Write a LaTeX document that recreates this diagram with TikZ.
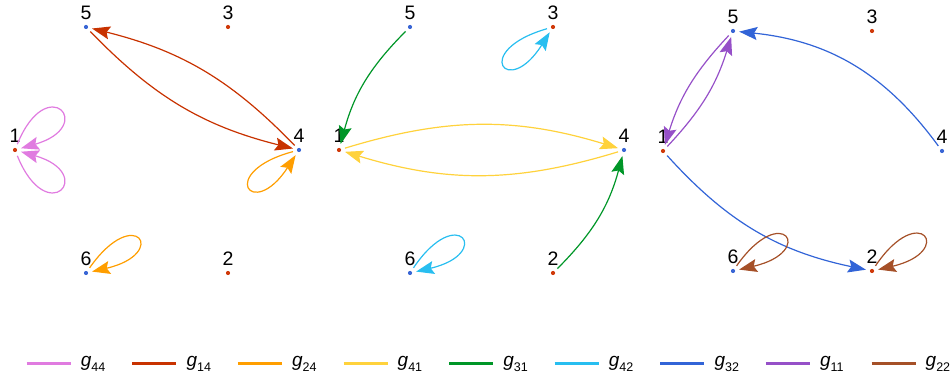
\documentclass[tikz,border=0pt]{standalone}
\usepackage{fontspec}
\setmainfont{Liberation Sans}
\usetikzlibrary{arrows.meta}
\definecolor{vblue}{HTML}{3A66D5}
\definecolor{vred}{HTML}{D03A0A}
\definecolor{cpink}{HTML}{E07BE0}
\definecolor{cred}{HTML}{C83200}
\definecolor{corange}{HTML}{FF9E00}
\definecolor{cyellow}{HTML}{FFD23C}
\definecolor{cgreen}{HTML}{009628}
\definecolor{ccyan}{HTML}{28BEF0}
\definecolor{cblue}{HTML}{3264D7}
\definecolor{cpurple}{HTML}{9650C8}
\definecolor{cbrown}{HTML}{A55028}
\tikzset{
  vtx/.style={circle, minimum size=12pt, inner sep=0pt},
  lbl/.style={anchor=base, inner sep=0pt, font=\fontsize{19.5}{19.5}\selectfont},
  edge/.style={line width=1.2pt, -{Stealth[length=18pt,width=13pt,inset=3pt]}},
  leg/.style={line width=2.4pt},
  legtxt/.style={anchor=base west, inner sep=0pt, font=\fontsize{19}{19}\selectfont},
}
\newcommand\myvertex[4]{%
  \node[vtx] (#1) at (#2) {};
  \fill[#3] (#1.center) circle (2.1);
  \node[lbl] (l#1) at ([yshift=7pt]#1.center) {#4};}
\newcommand\mysub[1]{\raisebox{-4.5pt}{\fontsize{12.5}{12.5}\selectfont #1}}
\newcommand\mylegend[4]{%
  \coordinate (ls#1) at (#2,16.3);
  \coordinate (le#1) at (#2+44,16.3);
  \draw[leg,#3] (ls#1) -- (le#1);
  \node[legtxt] (lt#1) at (#2+54,13) {{\itshape g}\mysub{#4}};}
\begin{document}
\begin{tikzpicture}[x=1pt,y=1pt]
\useasboundingbox (0,0) rectangle (951,380);
% panel 1
\myvertex{a5}{86,353}{vblue}{5}
\myvertex{a3}{228,353}{vred}{3}
\myvertex{a1}{15,230}{vred}{1}
\myvertex{a4}{299,230}{vblue}{4}
\myvertex{a6}{86,107}{vblue}{6}
\myvertex{a2}{228,107}{vred}{2}
% panel 2
\myvertex{b5}{410,353}{vblue}{5}
\myvertex{b3}{553,353}{vred}{3}
\myvertex{b1}{339,230}{vred}{1}
\myvertex{b4}{624,230}{vblue}{4}
\myvertex{b6}{410,107}{vblue}{6}
\myvertex{b2}{553,107}{vred}{2}
% panel 3
\myvertex{c5}{733,349}{vblue}{5}
\myvertex{c3}{872,349}{vred}{3}
\myvertex{c1}{663,229}{vred}{1}
\myvertex{c4}{942,229}{vblue}{4}
\myvertex{c6}{733,109}{vblue}{6}
\myvertex{c2}{872,109}{vred}{2}
% panel 1 edges
\draw[edge,cred] (a4) to[bend right=16] (a5);
\draw[edge,cred] (a5) to[bend right=16] (a4);
\draw[edge,cpink] (a1) .. controls +(68:86) and +(16:86) .. (a1);
\draw[edge,cpink] (a1) .. controls +(-68:86) and +(-16:86) .. (a1);
\draw[edge,corange] (a4) .. controls +(195:86) and +(237:86) .. (a4);
\draw[edge,corange] (a6) .. controls +(55:86) and +(13:86) .. (a6);
% panel 2 edges
\draw[edge,cgreen] (b5) to[bend right=15] (b1);
\draw[edge,cgreen] (b2) to[bend right=15] (b4);
\draw[edge,cyellow] (b1) to[bend left=17] (b4);
\draw[edge,cyellow] (b4) to[bend left=17] (b1);
\draw[edge,ccyan] (b3) .. controls +(196:86) and +(238:86) .. (b3);
\draw[edge,ccyan] (b6) .. controls +(56:86) and +(13:86) .. (b6);
% panel 3 edges
\draw[edge,cblue] (c4) to[bend right=24] (c5);
\draw[edge,cblue] (c1) to[bend right=18] (c2);
\draw[edge,cpurple] (c5) to[bend right=13] (c1);
\draw[edge,cpurple] (c1) to[bend right=13] (c5);
\draw[edge,cbrown] (c6) .. controls +(55:86) and +(13:86) .. (c6);
\draw[edge,cbrown] (c2) .. controls +(56:86) and +(13:86) .. (c2);
% legend
\mylegend{0}{26.7}{cpink}{44}
\mylegend{1}{132.3}{cred}{14}
\mylegend{2}{237.9}{corange}{24}
\mylegend{3}{343.5}{cyellow}{41}
\mylegend{4}{449.1}{cgreen}{31}
\mylegend{5}{554.7}{ccyan}{42}
\mylegend{6}{660.3}{cblue}{32}
\mylegend{7}{765.9}{cpurple}{11}
\mylegend{8}{871.5}{cbrown}{22}
\end{tikzpicture}
\end{document}
